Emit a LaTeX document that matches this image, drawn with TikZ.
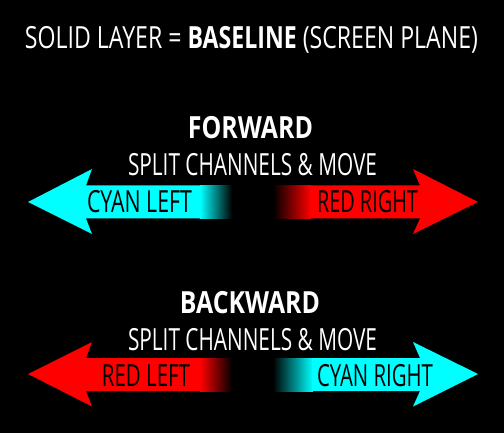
\documentclass[tikz,border=0pt]{standalone}
\usepackage{fontspec}
\setmainfont{Open Sans}
\usepackage{graphicx}
\definecolor{cyanc}{RGB}{0,255,255}
\definecolor{redc}{RGB}{255,0,0}
\newcommand\fitw[2]{\resizebox{#1}{\height}{#2}}
\begin{document}
\begin{tikzpicture}[x=1pt,y=-1pt,
  lbl/.style={inner sep=0pt, anchor=base, font=\fontsize{30.5}{31}\selectfont},
  wlbl/.style={lbl, text=white},
  blbl/.style={lbl, text=black}]
\fill[black] (0,0) rectangle (504,433);
\useasboundingbox (0,0) rectangle (504,433);

% top pair
\fill[cyanc] (28,202) -- (92,169) -- (86,185.5) -- (201,185.5) -- (201,218.5) -- (86,218.5) -- (92,234) -- cycle;
\shade[left color=cyanc, right color=black] (200,185.5) rectangle (232,218.5);
\shade[left color=black, right color=redc] (273,185.5) rectangle (311,218.5);
\fill[redc] (310,185.5) -- (420,185.5) -- (413,169) -- (478,202) -- (413,234) -- (420,218.5) -- (310,218.5) -- cycle;

% bottom pair
\fill[redc] (28,374) -- (92,342) -- (86,358) -- (201,358) -- (201,391) -- (86,391) -- (92,406.5) -- cycle;
\shade[left color=redc, right color=black] (200,358) rectangle (232,391);
\shade[left color=black, right color=cyanc] (273,358) rectangle (313,391);
\fill[cyanc] (312,358) -- (420,358) -- (413,342) -- (478,374) -- (413,406.5) -- (420,391) -- (312,391) -- cycle;

% texts
\node[wlbl] (title) at (251.5,49) {\fitw{453pt}{SOLID LAYER = \textbf{BASELINE} (SCREEN PLANE)}};
\node[wlbl] (fwd) at (250.5,139) {\fitw{125pt}{\textbf{FORWARD}}};
\node[wlbl] (split1) at (252.5,176) {\fitw{249pt}{SPLIT CHANNELS \& MOVE}};
\node[wlbl] (bwd) at (250,313) {\fitw{140pt}{\textbf{BACKWARD}}};
\node[wlbl] (split2) at (252.5,350) {\fitw{249pt}{SPLIT CHANNELS \& MOVE}};
\node[blbl] (cl) at (139.5,213) {\fitw{105pt}{CYAN LEFT}};
\node[blbl] (rr) at (367.5,213) {\fitw{101pt}{RED RIGHT}};
\node[blbl] (rl) at (146,386) {\fitw{88pt}{RED LEFT}};
\node[blbl] (cr) at (375,386) {\fitw{116pt}{CYAN RIGHT}};
\end{tikzpicture}
\end{document}
